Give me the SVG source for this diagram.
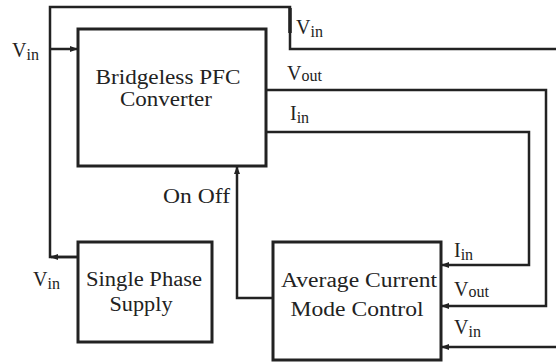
<svg xmlns="http://www.w3.org/2000/svg" width="556" height="362" viewBox="0 0 556 362">
<defs>
<marker id="a" markerWidth="8" markerHeight="8" refX="7" refY="4" orient="auto" markerUnits="userSpaceOnUse">
<path d="M0,1 L8,4 L0,7 z" fill="#222"/>
</marker>
</defs>
<rect width="556" height="362" fill="#fff"/>
<g id="connectors" fill="none" stroke="#222" stroke-width="2.5">
<path d="M78,257 H50 V7 H290 V49 H556"/>
<path d="M50,49 H77" marker-end="url(#a)"/>
<path d="M78,257 H51" marker-end="url(#a)"/>
<path d="M266,90 H546 V306 H442" marker-end="url(#a)"/>
<path d="M266,132 H529 V265 H442" marker-end="url(#a)"/>
<path d="M556,347 H442" marker-end="url(#a)"/>
<path d="M273,298 H237 V167" marker-end="url(#a)"/>
<path d="M290,8 V33" stroke-width="3.5"/>
</g>
<g id="pfc" font-size="20" fill="#222" text-anchor="middle">
<rect x="78" y="29" width="188" height="137" fill="#fff" stroke="#222" stroke-width="3"/>
<text font-family="Liberation Serif" x="168" y="84" textLength="145" lengthAdjust="spacingAndGlyphs">Bridgeless PFC</text>
<text font-family="Liberation Serif" x="166" y="106" textLength="92" lengthAdjust="spacingAndGlyphs">Converter</text>
</g>
<g id="supply" font-size="20" fill="#222" text-anchor="middle">
<rect x="78" y="242" width="134" height="100" fill="#fff" stroke="#222" stroke-width="3"/>
<text font-family="Liberation Serif" x="144" y="286" textLength="116" lengthAdjust="spacingAndGlyphs">Single Phase</text>
<text font-family="Liberation Serif" x="141" y="311" textLength="63" lengthAdjust="spacingAndGlyphs">Supply</text>
</g>
<g id="acmc" font-size="20" fill="#222" text-anchor="middle">
<rect x="273" y="242" width="168" height="118" fill="#fff" stroke="#222" stroke-width="3"/>
<text font-family="Liberation Serif" x="359" y="287" textLength="156" lengthAdjust="spacingAndGlyphs">Average Current</text>
<text font-family="Liberation Serif" x="357" y="316" textLength="133" lengthAdjust="spacingAndGlyphs">Mode Control</text>
</g>
<g id="labels" font-size="20" fill="#222">
<text font-family="Liberation Serif" x="12" y="57">V<tspan font-size="16" dy="3">in</tspan></text>
<text font-family="Liberation Serif" x="296" y="34">V<tspan font-size="16" dy="3">in</tspan></text>
<text font-family="Liberation Serif" x="287" y="80">V<tspan font-size="16" dy="1">out</tspan></text>
<text font-family="Liberation Serif" x="290" y="120">I<tspan font-size="16" dy="3">in</tspan></text>
<text font-family="Liberation Serif" x="163" y="203" textLength="67" lengthAdjust="spacingAndGlyphs">On Off</text>
<text font-family="Liberation Serif" x="33" y="286">V<tspan font-size="16" dy="3">in</tspan></text>
<text font-family="Liberation Serif" x="454" y="257">I<tspan font-size="16" dy="3">in</tspan></text>
<text font-family="Liberation Serif" x="454" y="296">V<tspan font-size="16" dy="1">out</tspan></text>
<text font-family="Liberation Serif" x="454" y="334">V<tspan font-size="16" dy="3">in</tspan></text>
</g>
</svg>
